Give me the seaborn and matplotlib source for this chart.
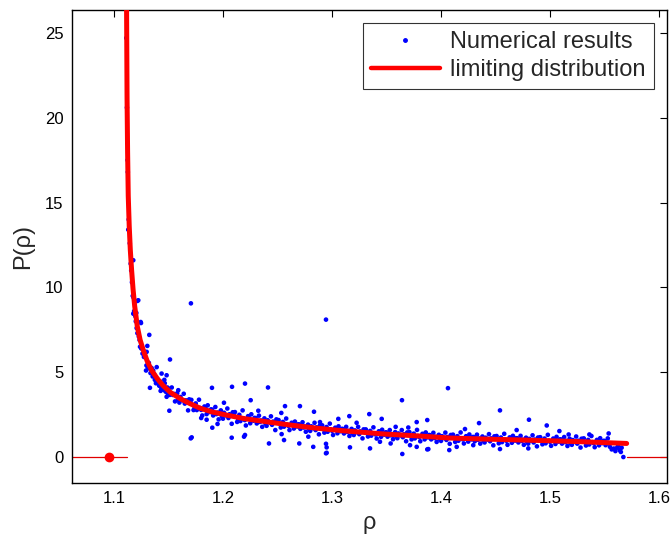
import matplotlib
matplotlib.use("Agg")
import matplotlib.pyplot as plt
import seaborn as sns
import pandas as pd
from matplotlib.lines import Line2D

# ---------------- data ----------------
# limiting distribution curve
curve_rho = [1.1109, 1.1112, 1.1116, 1.1120, 1.1125, 1.1131, 1.1140, 1.1150, 1.1162, 1.1175,
             1.1190, 1.1214, 1.1240, 1.1269, 1.1305, 1.1346, 1.1400, 1.1452, 1.1520, 1.1606,
             1.1700, 1.1790, 1.1900, 1.2034, 1.2200, 1.2400, 1.2600, 1.2860, 1.3100, 1.3472,
             1.3800, 1.4080, 1.4400, 1.4700, 1.5000, 1.5300, 1.5500, 1.5703]
curve_p = [40.0, 33.0, 26.0, 21.2, 18.0, 15.4, 13.6, 12.2, 11.0, 9.9,
           8.9, 7.7, 6.9, 6.3, 5.65, 5.1, 4.6, 4.2, 3.8, 3.45,
           3.14, 2.88, 2.66, 2.47, 2.26, 2.08, 1.90, 1.70, 1.55, 1.36,
           1.24, 1.12, 1.06, 1.01, 0.96, 0.90, 0.85, 0.80]

# zero-probability segments outside the support
zero_left_rho = [1.00, 1.1116]
zero_right_rho = [1.5705, 1.70]
zero_p = [0.0, 0.0]
point_rho = [1.0954]
point_p = [0.0]

# numerical results: steep part near the edge
steep_rho = [1.1113, 1.1119, 1.1123, 1.1127, 1.1131, 1.1153, 1.1177, 1.1172, 1.1193, 1.1196,
             1.1223, 1.1248, 1.1208, 1.1239, 1.1306, 1.1294, 1.1330, 1.1392, 1.1483, 1.1437,
             1.1483, 1.1590, 1.1125, 1.1135, 1.1145, 1.1158, 1.1165, 1.1180, 1.1185, 1.1200,
             1.1205, 1.1215, 1.1228, 1.1235, 1.1250, 1.1262, 1.1275, 1.1285, 1.1298, 1.1310,
             1.1320, 1.1335, 1.1345, 1.1355, 1.1368, 1.1375, 1.1385, 1.1398, 1.1406, 1.1415,
             1.1425, 1.1435, 1.1445, 1.1458, 1.1466, 1.1475, 1.1490, 1.1496, 1.1478, 1.1462,
             1.1428, 1.1177, 1.1214, 1.1245, 1.1254, 1.1300, 1.1360]
steep_p = [24.7, 20.6, 18.5, 16.8, 13.4, 11.4, 11.6, 9.5, 8.4, 8.3,
           9.24, 7.9, 7.6, 6.5, 6.55, 5.1, 5.2, 5.3, 4.82, 4.92,
           3.55, 3.94, 17.5, 14.0, 12.6, 11.0, 10.3, 9.4, 8.6, 8.0,
           8.5, 7.3, 7.1, 6.9, 6.4, 6.1, 5.9, 6.2, 5.4, 5.3,
           5.55, 4.95, 5.25, 4.75, 4.9, 4.55, 4.35, 4.6, 4.33, 4.2,
           4.45, 4.05, 4.25, 3.95, 4.35, 3.85, 4.1, 3.7, 4.0, 4.55,
           3.9, 8.45, 9.2, 7.96, 6.5, 6.2, 5.1]

# numerical results: main band (8 samples per 0.01 in rho)
band_rho_offsets = [0.000, 0.001, 0.003, 0.004, 0.005, 0.006, 0.008, 0.009]
band_starts = [1.15, 1.16, 1.17, 1.18, 1.19, 1.20, 1.21, 1.22, 1.23, 1.24,
               1.25, 1.26, 1.27, 1.28, 1.29, 1.30, 1.31, 1.32, 1.33, 1.34,
               1.35, 1.36, 1.37, 1.38, 1.39, 1.40, 1.41, 1.42, 1.43, 1.44,
               1.45, 1.46, 1.47, 1.48, 1.49, 1.50, 1.51, 1.52, 1.53, 1.54]
band_p = [
    [4.03, 3.66, 4.10, 3.66, 3.72, 3.28, 3.76, 3.38],
    [3.21, 3.54, 3.34, 3.73, 3.15, 3.34, 2.75, 3.40],
    [3.19, 3.37, 2.77, 2.93, 3.16, 2.77, 3.38, 2.89],
    [2.78, 2.45, 2.98, 2.86, 2.53, 3.05, 2.65, 2.81],
    [2.79, 2.45, 2.95, 2.53, 2.62, 2.22, 2.75, 2.40],
    [2.26, 2.61, 2.45, 2.86, 2.30, 2.52, 1.96, 2.64],
    [2.45, 2.65, 2.07, 2.24, 2.49, 2.12, 2.75, 2.27],
    [2.18, 1.86, 2.41, 2.30, 1.99, 2.52, 2.14, 2.31],
    [2.29, 1.98, 2.44, 2.07, 2.15, 1.78, 2.28, 1.97],
    [1.84, 2.17, 2.03, 2.40, 1.90, 2.09, 1.59, 2.22],
    [2.03, 2.18, 1.74, 1.87, 2.07, 1.79, 2.27, 1.91],
    [1.84, 1.59, 2.02, 1.93, 1.68, 2.09, 1.80, 1.93],
    [1.92, 1.66, 2.05, 1.74, 1.80, 1.49, 1.91, 1.65],
    [1.54, 1.81, 1.70, 2.02, 1.59, 1.75, 1.34, 1.87],
    [1.72, 1.87, 1.44, 1.57, 1.77, 1.49, 1.97, 1.62],
    [1.55, 1.30, 1.73, 1.65, 1.40, 1.81, 1.52, 1.66],
    [1.65, 1.39, 1.78, 1.48, 1.54, 1.24, 1.66, 1.40],
    [1.30, 1.57, 1.46, 1.78, 1.35, 1.51, 1.10, 1.63],
    [1.48, 1.63, 1.21, 1.34, 1.54, 1.26, 1.75, 1.40],
    [1.33, 1.09, 1.52, 1.43, 1.19, 1.61, 1.32, 1.45],
    [1.45, 1.20, 1.59, 1.28, 1.35, 1.05, 1.47, 1.21],
    [1.11, 1.39, 1.28, 1.59, 1.17, 1.34, 0.93, 1.45],
    [1.31, 1.47, 1.04, 1.18, 1.38, 1.10, 1.60, 1.24],
    [1.18, 0.93, 1.37, 1.28, 1.04, 1.45, 1.16, 1.30],
    [1.29, 1.04, 1.43, 1.12, 1.19, 0.89, 1.31, 1.05],
    [0.95, 1.23, 1.12, 1.44, 1.01, 1.18, 0.78, 1.30],
    [1.16, 1.32, 0.89, 1.03, 1.23, 0.96, 1.45, 1.10],
    [1.04, 0.80, 1.23, 1.15, 0.91, 1.33, 1.04, 1.18],
    [1.18, 0.93, 1.32, 1.02, 1.09, 0.79, 1.21, 0.96],
    [0.86, 1.14, 1.03, 1.35, 0.93, 1.10, 0.69, 1.22],
    [1.08, 1.24, 0.81, 0.95, 1.15, 0.88, 1.37, 1.02],
    [0.96, 0.72, 1.16, 1.08, 0.84, 1.25, 0.97, 1.11],
    [1.11, 0.86, 1.25, 0.95, 1.02, 0.72, 1.14, 0.89],
    [0.79, 1.07, 0.96, 1.28, 0.86, 1.03, 0.63, 1.15],
    [1.01, 1.17, 0.75, 0.89, 1.09, 0.81, 1.31, 0.96],
    [0.90, 0.66, 1.09, 1.01, 0.77, 1.19, 0.91, 1.04],
    [1.04, 0.79, 1.18, 0.88, 0.95, 0.65, 1.08, 0.82],
    [0.72, 1.00, 0.89, 1.21, 0.79, 0.96, 0.56, 1.08],
    [0.94, 1.10, 0.68, 0.81, 1.01, 0.74, 1.24, 0.88],
    [0.82, 0.58, 1.01, 0.93, 0.69, 1.11, 0.82, 0.95],
]

# numerical results: right end of the band and tail drop
tail_rho = [1.5500, 1.5510, 1.5530, 1.5540, 1.5550, 1.5566, 1.5585, 1.5600, 1.5615, 1.5625,
            1.5640, 1.5650, 1.5657, 1.5673]
tail_p = [0.95, 0.70, 1.10, 0.80, 0.60, 0.45, 0.50, 0.35, 0.55, 0.65,
          0.40, 0.30, 0.55, 0.00]

# numerical results: scattered outliers
out_rho = [1.1706, 1.2945, 1.4064, 1.2413, 1.3642, 1.4541, 1.4807, 1.4970, 1.4349, 1.1514,
           1.1324, 1.1330, 1.1508, 1.1704, 1.1713, 1.1899, 1.2083, 1.2202, 1.2254, 1.2080,
           1.2202, 1.2193, 1.1902, 1.2009, 1.2569, 1.2706, 1.2835, 1.2535, 1.2324, 1.2422,
           1.2560, 1.2700, 1.2828, 1.2945, 1.2951, 1.2783, 1.2538, 1.3342, 1.3159, 1.3058,
           1.3226, 1.3456, 1.3777, 1.3874, 1.3584, 1.3700, 1.2890, 1.2951, 1.2945, 1.3165,
           1.3349, 1.3645, 1.3538, 1.3716, 1.3777, 1.3874, 1.3440, 1.3884, 1.4076, 1.4144,
           1.4296, 1.4541, 1.4801, 1.4220, 1.4694, 1.5086, 1.5538, 1.5361, 1.5171, 1.1800,
           1.1850, 1.1950]
out_p = [9.06, 8.10, 4.06, 4.10, 3.35, 2.75, 2.20, 1.86, 2.00, 5.75,
         7.20, 4.08, 2.73, 1.10, 1.16, 4.08, 4.14, 4.33, 3.35, 1.14,
         1.30, 1.20, 1.73, 3.20, 3.00, 3.00, 2.67, 2.60, 2.73, 0.80,
         1.00, 0.80, 0.60, 0.22, 0.57, 1.20, 1.35, 2.53, 2.41, 2.25,
         2.02, 2.25, 2.06, 2.18, 1.78, 1.74, 2.06, 0.25, 0.78, 0.57,
         0.51, 0.18, 0.80, 0.70, 0.60, 0.45, 0.90, 0.47, 0.41, 0.60,
         0.70, 0.47, 0.51, 1.65, 1.59, 1.53, 1.39, 1.33, 1.33, 2.30,
         2.20, 1.95]

x_ticks = [1.1, 1.2, 1.3, 1.4, 1.5, 1.6]
y_ticks = [0, 5, 10, 15, 20, 25]

# ---------------- assemble ----------------
band_rho_all, band_p_all = [], []
for s, row in zip(band_starts, band_p):
    for o, v in zip(band_rho_offsets, row):
        band_rho_all.append(s + o)
        band_p_all.append(v)

pts = pd.DataFrame({
    "rho": steep_rho + band_rho_all + tail_rho + out_rho,
    "P": steep_p + band_p_all + tail_p + out_p,
})
curve = pd.DataFrame({"rho": curve_rho, "P": curve_p})

# ---------------- plot ----------------
sns.set_style("white")
plt.rcParams["font.family"] = ["Liberation Sans", "DejaVu Sans"]

fig = plt.figure(figsize=(6.71, 5.36), dpi=100)
ax = fig.add_axes([0.1073, 0.0989, 0.8867, 0.8824])

ax.plot(zero_left_rho, zero_p, color="#e00000", lw=0.9, zorder=2)
ax.plot(zero_right_rho, zero_p, color="#e00000", lw=0.9, zorder=2)
ax.plot(point_rho, point_p, "o", color="red", ms=6, zorder=3)

sns.scatterplot(data=pts, x="rho", y="P", ax=ax, color="#0000ff", s=11,
                edgecolor="none", linewidth=0, zorder=4, legend=False)
sns.lineplot(data=curve, x="rho", y="P", ax=ax, color="#ff0000", lw=3.6,
             sort=False, estimator=None, zorder=5, legend=False)

ax.set_xlim(1.0615, 1.6073)
ax.set_ylim(-1.53, 26.35)
ax.set_xticks(x_ticks)
ax.set_xticklabels([f"{t:.1f}" for t in x_ticks])
ax.set_yticks(y_ticks)
ax.set_yticklabels([str(t) for t in y_ticks])
ax.tick_params(direction="in", top=True, right=True, length=5, width=0.8,
               labelsize=12, colors="black", pad=6)
for sp in ax.spines.values():
    sp.set_visible(True)
    sp.set_color("black")
    sp.set_linewidth(1.0)

ax.set_xlabel("ρ", fontsize=17, labelpad=4)
ax.set_ylabel("P(ρ)", fontsize=17, labelpad=8)

handles = [
    Line2D([], [], marker="o", ls="none", color="#0000ff", ms=2.5),
    Line2D([], [], color="#ff0000", lw=3.2),
]
leg = ax.legend(handles, ["Numerical results", "limiting distribution"],
                loc="upper right", fontsize=17, frameon=True, fancybox=False,
                edgecolor="black", handlelength=2.9, handletextpad=0.45,
                borderpad=0.35, labelspacing=0.25, borderaxespad=0.55)
leg.get_frame().set_linewidth(0.8)

fig.savefig("out.png", dpi=100)
